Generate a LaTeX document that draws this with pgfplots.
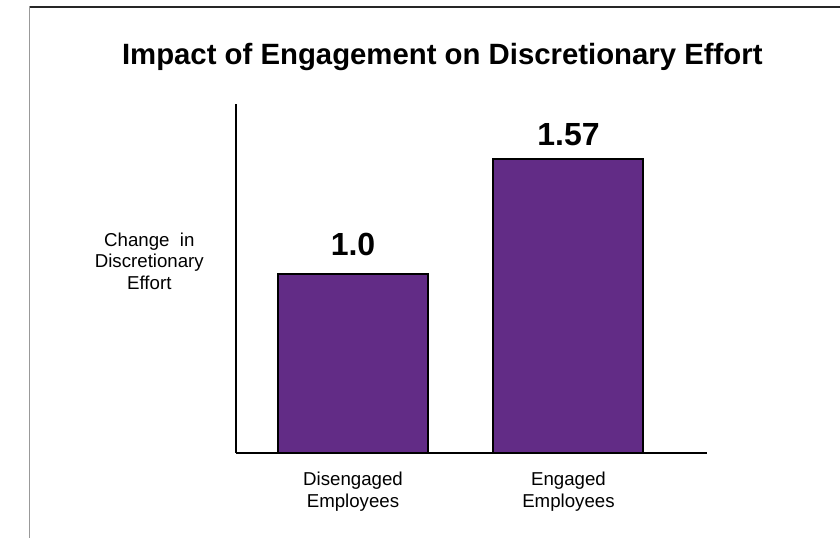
\documentclass[border=0pt]{standalone}
\usepackage{pgfplots}
\pgfplotsset{compat=1.18}
\usepackage{fontspec}
\setmainfont{Liberation Sans}
\definecolor{barpurple}{HTML}{622C86}
\begin{document}
\begin{tikzpicture}
\begin{axis}[
  name=ax,
  at={(0pt,0pt)}, anchor=south west,
  scale only axis,
  width=353.25pt, height=261.75pt,
  xmin=-0.543, xmax=1.643,
  ymin=0.113, ymax=1.843,
  axis x line=bottom, axis y line=left,
  axis line style={-, line width=1.6pt, black},
  ytick=\empty,
  xtick={0,1},
  xticklabels={Disengaged\\Employees, Engaged\\Employees},
  major tick length=0pt,
  xticklabel style={align=center, font=\fontsize{14}{16}\selectfont, anchor=north, yshift=-11pt},
  ylabel={Change\ \ in\\Discretionary\\Effort},
  ylabel style={rotate=-90, align=center, anchor=center, font=\fontsize{14}{16}\selectfont,
    at={(axis description cs:-0.184,0.55)}},
  title={Impact of Engagement on Discretionary Effort},
  title style={font=\bfseries\fontsize{22}{26}\selectfont, anchor=center,
    at={(axis description cs:0.438,1.112)}},
  ybar, bar width=112.5pt, bar shift=0pt,
  point meta=explicit symbolic,
  nodes near coords,
  every node near coord/.append style={anchor=base, font=\bfseries\fontsize{24}{28}\selectfont, inner sep=0pt},
]
\addplot[fill=barpurple, draw=black, line width=1.5pt,
  every node near coord/.append style={yshift=14pt}]
  coordinates {(0,1.0) [1.0]};
\addplot[fill=barpurple, draw=black, line width=1.5pt,
  every node near coord/.append style={yshift=10.5pt}]
  coordinates {(1,1.57) [1.57]};
\end{axis}
\begin{scope}[shift={(ax.south west)}, x=0.75pt, y=0.75pt]
\useasboundingbox (-236,-85) rectangle (604,453);
\draw[color=black!85, line width=1.1pt] (-206.5,446) -- (604,446);
\draw[color=black!40, line width=1.1pt] (-206.5,446.5) -- (-206.5,-85);
\end{scope}
\end{tikzpicture}
\end{document}
